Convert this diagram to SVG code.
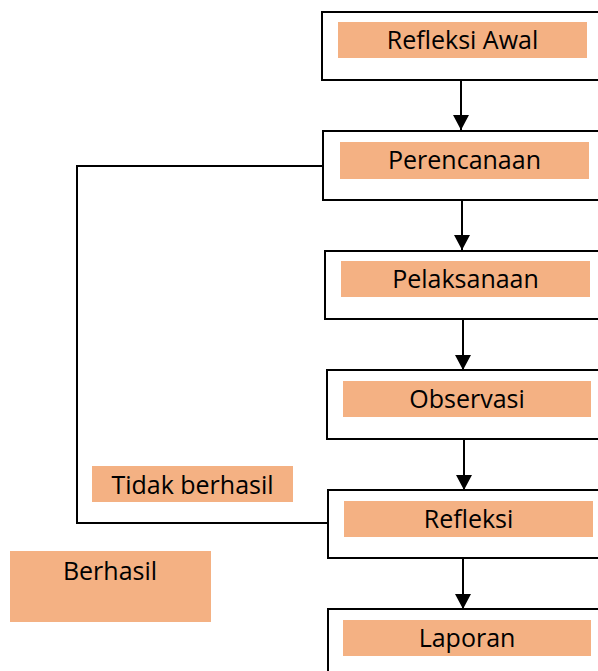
<svg xmlns="http://www.w3.org/2000/svg" width="598" height="671" viewBox="0 0 598 671">
<defs>
<style>
.box{fill:#fff;stroke:#000;stroke-width:2}
.lab{fill:#F4B183}
.t{font-family:"Open Sans","Noto Sans",sans-serif;font-size:25px;fill:#000;text-anchor:middle}
.ln{fill:none;stroke:#000;stroke-width:2}
</style>
<marker id="ah" markerWidth="15" markerHeight="16" refX="15" refY="8" orient="auto" markerUnits="userSpaceOnUse" viewBox="0 0 15 16">
<path d="M0,0 L15,8 L0,16 Z" fill="#000"/>
</marker>
</defs>
<g id="connectors">
<line class="ln" x1="461" y1="80" x2="461" y2="130" marker-end="url(#ah)"/>
<line class="ln" x1="462" y1="200" x2="462" y2="250" marker-end="url(#ah)"/>
<line class="ln" x1="463" y1="319" x2="463" y2="370" marker-end="url(#ah)"/>
<line class="ln" x1="464" y1="439" x2="464" y2="490" marker-end="url(#ah)"/>
<line class="ln" x1="463" y1="558" x2="463" y2="609" marker-end="url(#ah)"/>
<polyline class="ln" points="323,166 77,166 77,523 328,523"/>
</g>
<g id="refleksi-awal">
<rect class="box" x="322" y="12" width="290" height="68"/>
<rect class="lab" x="338" y="22" width="249" height="36"/>
<text class="t" x="462.5" y="49">Refleksi Awal</text>
</g>
<g id="perencanaan">
<rect class="box" x="323" y="131" width="290" height="69"/>
<rect class="lab" x="340" y="142" width="249" height="37"/>
<text class="t" x="464.5" y="169">Perencanaan</text>
</g>
<g id="pelaksanaan">
<rect class="box" x="325" y="251" width="290" height="68"/>
<rect class="lab" x="341" y="261" width="249" height="36"/>
<text class="t" x="465.5" y="288">Pelaksanaan</text>
</g>
<g id="observasi">
<rect class="box" x="327" y="370" width="290" height="69"/>
<rect class="lab" x="343" y="381" width="248" height="36"/>
<text class="t" x="467" y="408">Observasi</text>
</g>
<g id="refleksi">
<rect class="box" x="328" y="490" width="290" height="68"/>
<rect class="lab" x="344" y="501" width="249" height="36"/>
<text class="t" x="468.5" y="528">Refleksi</text>
</g>
<g id="laporan">
<rect class="box" x="328" y="609" width="290" height="80"/>
<rect class="lab" x="343" y="620" width="248" height="36"/>
<text class="t" x="467" y="647">Laporan</text>
</g>
<g id="tidak-berhasil">
<rect class="lab" x="92" y="466" width="201" height="36"/>
<text class="t" x="192.5" y="494">Tidak berhasil</text>
</g>
<g id="berhasil">
<rect class="lab" x="10" y="551" width="201" height="71"/>
<text class="t" x="110" y="580">Berhasil</text>
</g>
</svg>
